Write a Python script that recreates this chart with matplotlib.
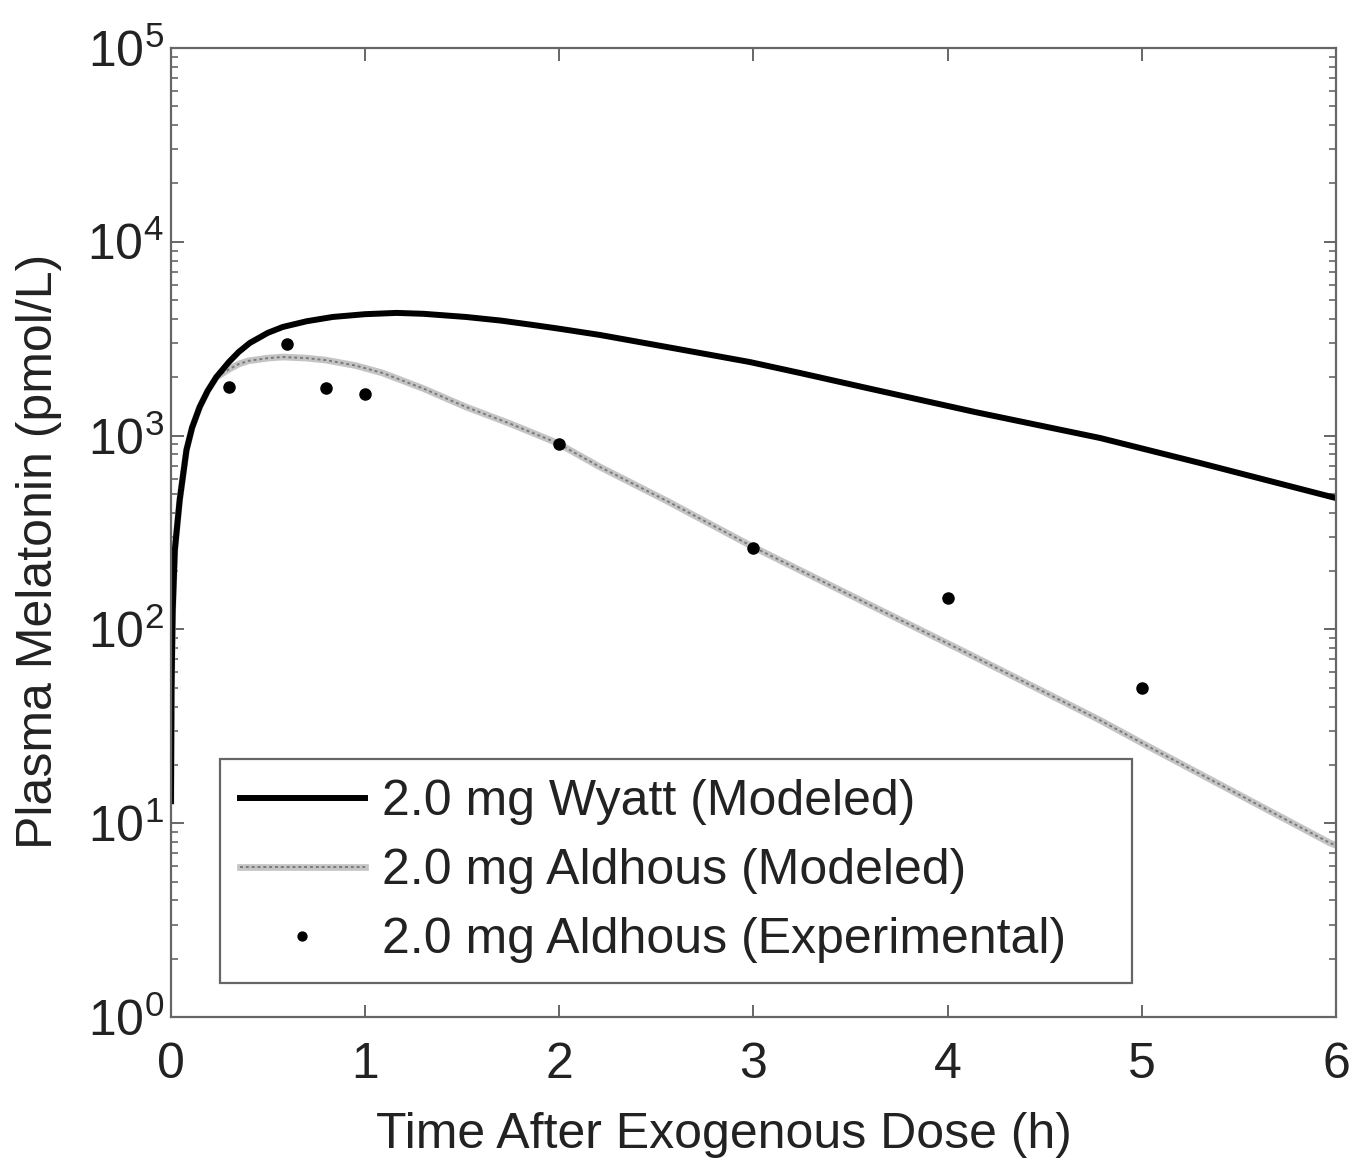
import numpy as np
import matplotlib
matplotlib.use("Agg")
import matplotlib.pyplot as plt

plt.rcParams['font.family'] = ['Liberation Sans', 'DejaVu Sans']

# Wyatt model curve
wyatt_t = [0.001, 0.004, 0.01, 0.021, 0.046, 0.081, 0.11, 0.149, 0.19, 0.235,
           0.3, 0.35, 0.407, 0.5, 0.577, 0.7, 0.834, 1.0, 1.163, 1.3,
           1.52, 1.7, 1.865, 2.0, 2.21, 2.6, 2.98, 3.24, 3.6, 4.14,
           4.785, 5.3, 6.0]
wyatt_c = [13, 50, 125, 257, 465, 843, 1100, 1405, 1700, 2006,
           2400, 2700, 3005, 3390, 3634, 3890, 4093, 4230, 4295, 4250,
           4093, 3920, 3722, 3560, 3305, 2811, 2398, 2104, 1746, 1324,
           972, 722, 476]

# Aldhous model curve
aldhous_t = [0.001, 0.004, 0.01, 0.021, 0.046, 0.081, 0.11, 0.149, 0.19, 0.235,
             0.3, 0.35, 0.4, 0.5, 0.577, 0.7, 0.8, 0.95, 1.09, 1.3,
             1.52, 1.75, 1.99, 2.21, 2.555, 3.0, 3.24, 4.1, 4.785, 5.04,
             5.97, 6.0]
aldhous_c = [13, 50, 125, 257, 465, 843, 1100, 1405, 1700, 2000,
             2200, 2340, 2430, 2510, 2543, 2510, 2450, 2300, 2105, 1750,
             1405, 1150, 916, 689, 460, 266, 202, 75.5, 34, 24.7,
             7.9, 7.7]

# Aldhous experimental points
exp_t = [0.3, 0.6, 0.8, 1, 2, 3, 4, 5]
exp_c = [1787, 2971, 1754, 1634, 902, 262, 146, 50]

fig = plt.figure(figsize=(13.66, 11.61), dpi=100)
ax = fig.add_axes([0.125, 0.124, 0.853, 0.8347])

g1, = ax.plot(aldhous_t, aldhous_c, color='#c4c4c4', lw=4.8)
g2, = ax.plot(aldhous_t, aldhous_c, color='#7a7a7a', lw=1.4, ls=(0, (1.5, 1.5)))
l1, = ax.plot(wyatt_t, wyatt_c, color='black', lw=4.3)
d1, = ax.plot(exp_t, exp_c, 'o', color='black', ms=8, ls='none')

ax.set_yscale('log')
ax.set_xlim(0, 6)
ax.set_ylim(1, 1e5)
ax.set_xticks([0, 1, 2, 3, 4, 5, 6])
ax.set_yticks([1, 10, 100, 1e3, 1e4, 1e5])

axis_col = '#666666'
for s in ax.spines.values():
    s.set_color(axis_col)
    s.set_linewidth(1.6)
ax.tick_params(which='both', direction='in', top=True, right=True,
               color=axis_col, labelcolor='#222222')
ax.tick_params(which='major', length=9, width=1.4, labelsize=36)
ax.tick_params(which='minor', length=5, width=1.2)
ax.tick_params(axis='x', which='major', pad=18)
ax.tick_params(axis='y', which='major', pad=5)

ax.set_xlabel('Time After Exogenous Dose (h)', fontsize=36, color='#222222')
ax.set_ylabel('Plasma Melatonin (pmol/L)', fontsize=36, color='#222222')
ax.xaxis.set_label_coords(0.475, -0.098)
ax.yaxis.set_label_coords(-0.093, 0.48)

leg = ax.legend([l1, (g1, g2), d1],
                ['2.0 mg Wyatt (Modeled)', '2.0 mg Aldhous (Modeled)',
                 '2.0 mg Aldhous (Experimental)'],
                loc='lower left', bbox_to_anchor=(0.042, 0.035, 0.783, 0.3),
                mode='expand', borderaxespad=0,
                fontsize=36, fancybox=False, framealpha=1, edgecolor=axis_col,
                handlelength=2.5, handletextpad=0.35, labelspacing=0.46,
                borderpad=0.4, markerscale=0.8)
leg.get_frame().set_linewidth(1.6)
for t in leg.get_texts():
    t.set_color('#222222')

plt.savefig('out.png', dpi=100)
